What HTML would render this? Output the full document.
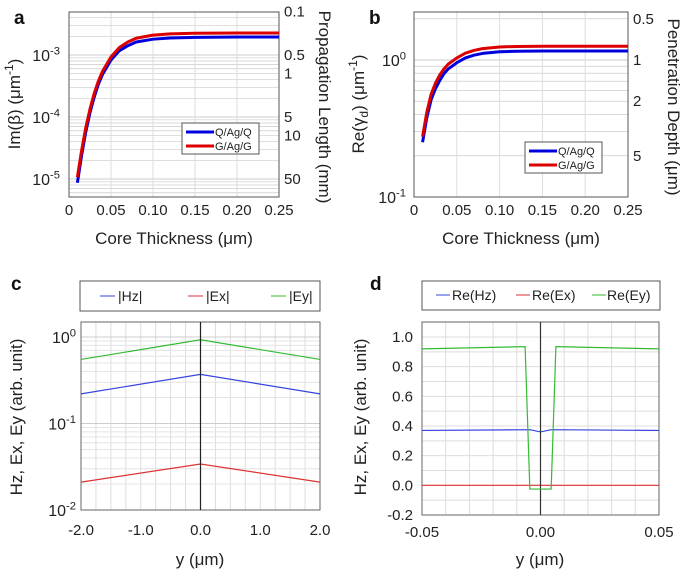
<!DOCTYPE html>
<html><head><meta charset="utf-8">
<style>
html,body{margin:0;padding:0;background:#fff;}
svg{display:block;font-family:"Liberation Sans",sans-serif;}
</style></head>
<body>
<svg id="fig" width="685" height="571" viewBox="0 0 685 571" xmlns="http://www.w3.org/2000/svg"></svg>
<script>
// Panel a data
const aX = [0.01,0.015,0.02,0.025,0.03,0.035,0.04,0.05,0.06,0.07,0.08,0.1,0.12,0.15,0.2,0.25];
const aBlueLog = [-5.06,-4.62,-4.24,-3.93,-3.68,-3.47,-3.31,-3.08,-2.93,-2.85,-2.79,-2.745,-2.725,-2.715,-2.71,-2.71];
const aRedLog = [-4.97,-4.54,-4.17,-3.87,-3.62,-3.42,-3.26,-3.03,-2.88,-2.79,-2.73,-2.68,-2.66,-2.65,-2.645,-2.645];
const aXTicks = [0,0.05,0.10,0.15,0.20,0.25];
const aXTickLabels = ["0","0.05","0.10","0.15","0.20","0.25"];
const aYTicks = [-5,-4,-3];
const aRightTicks = [0.1,0.5,1,5,10,50];
// Panel b data
const bX = [0.01,0.015,0.02,0.025,0.03,0.035,0.04,0.05,0.06,0.07,0.08,0.1,0.12,0.15,0.2,0.25];
const bBlueLog = [-0.60,-0.42,-0.29,-0.21,-0.15,-0.10,-0.065,-0.02,0.015,0.035,0.048,0.06,0.064,0.066,0.066,0.066];
const bRedLog = [-0.56,-0.38,-0.25,-0.17,-0.11,-0.065,-0.03,0.015,0.05,0.07,0.083,0.095,0.099,0.10,0.10,0.10];
const bYTicks = [-1,0];
const bRightTicks = [0.5,1,2,5];
// Panel c data
const cX = [-2,0,2];
const cEy = [0.55,0.93,0.55];
const cHz = [0.22,0.37,0.22];
const cEx = [0.021,0.034,0.021];
const cXTicks = [-2,-1,0,1,2];
const cXTickLabels = ["-2.0","-1.0","0.0","1.0","2.0"];
const cYTicks = [-2,-1,0];
// Panel d data
const dX = [-0.05,-0.0065,-0.0045,0.0045,0.0065,0.05];
const dEy = [0.92,0.935,-0.025,-0.025,0.935,0.92];
const dHzX = [-0.05,-0.0045,0,0.0045,0.05];
const dHz = [0.37,0.375,0.36,0.375,0.37];
const dExX = [-0.05,0.05];
const dEx = [0.0,0.0];
const dXTicks = [-0.05,0,0.05];
const dXTickLabels = ["-0.05","0.00","0.05"];
const dYTicks = [-0.2,0,0.2,0.4,0.6,0.8,1.0];
const dYTickLabels = ["-0.2","0.0","0.2","0.4","0.6","0.8","1.0"];

const NS="http://www.w3.org/2000/svg";
const svg=document.getElementById('fig');
function mk(tag,attrs,parent,text){const e=document.createElementNS(NS,tag);for(const k in attrs)e.setAttribute(k,attrs[k]);if(text!==undefined)e.textContent=text;(parent||svg).appendChild(e);return e;}
function lin(d0,d1,p0,p1){return v=>p0+(v-d0)/(d1-d0)*(p1-p0);}
function path(xs,ys,fx,fy){return xs.map((x,i)=>(i?'L':'M')+fx(x).toFixed(2)+','+fy(ys[i]).toFixed(2)).join('');}
function supLabel(g,x,y,base,exp,size,anchor){const t=mk('text',{x:x,y:y,'font-size':size,'text-anchor':anchor||'end',fill:'#222'},g);mk('tspan',{},t,base);mk('tspan',{dy:-size*0.4,'font-size':size*0.7},t,exp);return t;}

// ===== Panel a =====
(function(){
 const g=mk('g',{});
 const L=69,R=279,T=12,B=197;
 const fx=lin(0,0.25,L,R); const fy=lin(-3,-4,55,117);
 for(let d=-6;d<=-2;d++)for(let m=1;m<10;m++){const v=d+Math.log10(m);const y=fy(v);if(y>T&&y<B)mk('line',{x1:L,x2:R,y1:y,y2:y,stroke:'#ccc','stroke-width':m==1?1:0.7},g);}
 aXTicks.forEach(t=>mk('line',{x1:fx(t),x2:fx(t),y1:T,y2:B,stroke:'#ddd'},g));
 mk('rect',{x:L,y:T,width:R-L,height:B-T,fill:'none',stroke:'#555'},g);
 aXTicks.forEach((t,i)=>{const x=mk('text',{x:fx(t),y:215,'font-size':15,'text-anchor':'middle',fill:'#222'},g,aXTickLabels[i]);});
 aYTicks.forEach(t=>{const s=supLabel(g,60,fy(t)+6,'10',String(t),16);});
 aRightTicks.forEach(t=>{const y=fy(Math.log10(1/(t*2000)));const tx=mk('text',{x:284,y:y+5,'font-size':15,fill:'#222'},g,String(t));});
 const pb=mk('path',{d:path(aX,aBlueLog,fx,fy),fill:'none',stroke:'#0000dd','stroke-width':3,'stroke-linejoin':'round'},g);
 const pr=mk('path',{d:path(aX,aRedLog,fx,fy),fill:'none',stroke:'#dd0000','stroke-width':3,'stroke-linejoin':'round'},g);
 const lg=mk('g',{},g);
 mk('rect',{x:182,y:123,width:77,height:31,fill:'#fff',stroke:'#555'},lg);
 mk('line',{x1:186,x2:214,y1:132,y2:132,stroke:'#0000dd','stroke-width':3},lg);
 mk('text',{x:215,y:136,'font-size':11,fill:'#222'},lg,'Q/Ag/Q');
 mk('line',{x1:186,x2:214,y1:146,y2:146,stroke:'#dd0000','stroke-width':3},lg);
 mk('text',{x:215,y:150,'font-size':11,fill:'#222'},lg,'G/Ag/G');
 const pl=mk('text',{x:14,y:24,'font-size':19,'font-weight':'bold',fill:'#111'},g,'a');
 const xt=mk('text',{x:174,y:244,'font-size':17,'text-anchor':'middle',fill:'#222'},g,'Core Thickness (μm)');
 const yt=mk('text',{transform:'translate(20,104) rotate(-90)','font-size':17,'text-anchor':'middle',fill:'#222'},g);
 mk('tspan',{},yt,'Im(β) (μm');mk('tspan',{dy:-7,'font-size':12},yt,'-1');mk('tspan',{dy:7},yt,')');
 const rt=mk('text',{transform:'translate(319,107) rotate(90)','font-size':17,'text-anchor':'middle',fill:'#222'},g,'Propagation Length (mm)');
})();

// ===== Panel b =====
(function(){
 const g=mk('g',{});
 const L=414,R=628,T=12,B=197;
 const fx=lin(0,0.25,L,R); const fy=lin(0,-1,60,197);
 for(let d=-1;d<=0;d++)for(let m=1;m<10;m++){const v=d+Math.log10(m);const y=fy(v);if(y>T&&y<B)mk('line',{x1:L,x2:R,y1:y,y2:y,stroke:'#ccc','stroke-width':m==1?1:0.7},g);}
 aXTicks.forEach(t=>mk('line',{x1:fx(t),x2:fx(t),y1:T,y2:B,stroke:'#ddd'},g));
 mk('rect',{x:L,y:T,width:R-L,height:B-T,fill:'none',stroke:'#555'},g);
 aXTicks.forEach((t,i)=>{const x=mk('text',{x:fx(t),y:215,'font-size':15,'text-anchor':'middle',fill:'#222'},g,aXTickLabels[i]);});
 bYTicks.forEach(t=>{const s=supLabel(g,406,fy(t)+6,'10',String(t),16);});
 bRightTicks.forEach(t=>{const y=fy(Math.log10(1/t));const tx=mk('text',{x:633,y:y+5,'font-size':15,fill:'#222'},g,String(t));});
 const pb=mk('path',{d:path(bX,bBlueLog,fx,fy),fill:'none',stroke:'#0000dd','stroke-width':3,'stroke-linejoin':'round'},g);
 const pr=mk('path',{d:path(bX,bRedLog,fx,fy),fill:'none',stroke:'#dd0000','stroke-width':3,'stroke-linejoin':'round'},g);
 const lg=mk('g',{},g);
 mk('rect',{x:525,y:142,width:77,height:31,fill:'#fff',stroke:'#555'},lg);
 mk('line',{x1:529,x2:557,y1:151,y2:151,stroke:'#0000dd','stroke-width':3},lg);
 mk('text',{x:558,y:155,'font-size':11,fill:'#222'},lg,'Q/Ag/Q');
 mk('line',{x1:529,x2:557,y1:165,y2:165,stroke:'#dd0000','stroke-width':3},lg);
 mk('text',{x:558,y:169,'font-size':11,fill:'#222'},lg,'G/Ag/G');
 const pl=mk('text',{x:369,y:24,'font-size':19,'font-weight':'bold',fill:'#111'},g,'b');
 const xt=mk('text',{x:521,y:244,'font-size':17,'text-anchor':'middle',fill:'#222'},g,'Core Thickness (μm)');
 const yt=mk('text',{transform:'translate(364,104) rotate(-90)','font-size':17,'text-anchor':'middle',fill:'#222'},g);
 mk('tspan',{},yt,'Re(γ');mk('tspan',{dy:4,'font-size':12},yt,'d');mk('tspan',{dy:-4},yt,') (μm');mk('tspan',{dy:-7,'font-size':12},yt,'-1');mk('tspan',{dy:7},yt,')');
 const rt=mk('text',{transform:'translate(668,107) rotate(90)','font-size':17,'text-anchor':'middle',fill:'#222'},g,'Penetration Depth (μm)');
})();

// ===== Panel c =====
(function(){
 const g=mk('g',{});
 const L=81,R=320,T=322,B=510;
 const fx=lin(-2,2,L,R); const fy=lin(0,-1,337,423.5);
 for(let x=-2;x<=2.001;x+=0.25)mk('line',{x1:fx(x),x2:fx(x),y1:T,y2:B,stroke:'#ddd'},g);
 for(let d=-2;d<=0;d++)for(let m=1;m<10;m++){const v=d+Math.log10(m);const y=fy(v);if(y>T&&y<B)mk('line',{x1:L,x2:R,y1:y,y2:y,stroke:m==1?'#ccc':'#e4e4e4'},g);}
 mk('rect',{x:L,y:T,width:R-L,height:B-T,fill:'none',stroke:'#666'},g);
 cXTicks.forEach((t,i)=>{const x=mk('text',{x:fx(t),y:535,'font-size':15,'text-anchor':'middle',fill:'#222'},g,cXTickLabels[i]);});
 cYTicks.forEach(t=>{const s=supLabel(g,76,fy(t)+6,'10',String(t),16);});
 const lg10=a=>a.map(v=>Math.log10(v));
 const e1=mk('path',{d:path(cX,lg10(cEy),fx,fy),fill:'none',stroke:'#33bb33','stroke-width':1.2},g);
 const e2=mk('path',{d:path(cX,lg10(cHz),fx,fy),fill:'none',stroke:'#3344dd','stroke-width':1.2},g);
 const e3=mk('path',{d:path(cX,lg10(cEx),fx,fy),fill:'none',stroke:'#dd3333','stroke-width':1.2},g);
 mk('line',{x1:fx(0),x2:fx(0),y1:T,y2:B,stroke:'#222','stroke-width':1.2},g);
 const lg=mk('g',{},g);
 mk('rect',{x:80,y:281,width:240,height:30,fill:'#fff',stroke:'#555'},lg);
 mk('line',{x1:100,x2:115,y1:296,y2:296,stroke:'#3344dd'},lg);mk('text',{x:118,y:301,'font-size':14,fill:'#222'},lg,'|Hz|');
 mk('line',{x1:188,x2:203,y1:296,y2:296,stroke:'#dd3333'},lg);mk('text',{x:206,y:301,'font-size':14,fill:'#222'},lg,'|Ex|');
 mk('line',{x1:271,x2:286,y1:296,y2:296,stroke:'#33bb33'},lg);mk('text',{x:289,y:301,'font-size':14,fill:'#222'},lg,'|Ey|');
 const pl=mk('text',{x:11,y:290,'font-size':19,'font-weight':'bold',fill:'#111'},g,'c');
 const xt=mk('text',{x:200,y:565,'font-size':17,'text-anchor':'middle',fill:'#222'},g,'y (μm)');
 const yt=mk('text',{transform:'translate(22,417) rotate(-90)','font-size':17,'text-anchor':'middle',fill:'#222'},g,'Hz, Ex, Ey (arb. unit)');
})();

// ===== Panel d =====
(function(){
 const g=mk('g',{});
 const L=422,R=659,T=322,B=515;
 const fx=lin(-0.05,0.05,L,R); const fy=lin(1.0,-0.2,337,515);
 for(let i=-5;i<=5;i++)mk('line',{x1:fx(i*0.01),x2:fx(i*0.01),y1:T,y2:B,stroke:'#ddd'},g);
 for(let i=-2;i<=11;i++)mk('line',{x1:L,x2:R,y1:fy(i*0.1),y2:fy(i*0.1),stroke:'#ddd'},g);
 mk('rect',{x:L,y:T,width:R-L,height:B-T,fill:'none',stroke:'#666'},g);
 dXTicks.forEach((t,i)=>{const x=mk('text',{x:fx(t),y:537,'font-size':15,'text-anchor':'middle',fill:'#222'},g,dXTickLabels[i]);});
 dYTicks.forEach((t,i)=>{const x=mk('text',{x:413,y:fy(t)+5,'font-size':15,'text-anchor':'end',fill:'#222'},g,dYTickLabels[i]);});
 const e3=mk('path',{d:path(dExX,dEx,fx,fy),fill:'none',stroke:'#dd3333','stroke-width':1.2},g);
 const e2=mk('path',{d:path(dHzX,dHz,fx,fy),fill:'none',stroke:'#3344dd','stroke-width':1.2},g);
 mk('line',{x1:fx(0),x2:fx(0),y1:T,y2:B,stroke:'#333','stroke-width':1.2},g);
 const e1=mk('path',{d:path(dX,dEy,fx,fy),fill:'none',stroke:'#33bb33','stroke-width':1.2},g);
 const lg=mk('g',{},g);
 mk('rect',{x:422,y:281,width:238,height:29,fill:'#fff',stroke:'#555'},lg);
 mk('line',{x1:436,x2:450,y1:295,y2:295,stroke:'#3344dd'},lg);mk('text',{x:452,y:300,'font-size':14,fill:'#222'},lg,'Re(Hz)');
 mk('line',{x1:516,x2:530,y1:295,y2:295,stroke:'#dd3333'},lg);mk('text',{x:532,y:300,'font-size':14,fill:'#222'},lg,'Re(Ex)');
 mk('line',{x1:592,x2:606,y1:295,y2:295,stroke:'#33bb33'},lg);mk('text',{x:607,y:300,'font-size':14,fill:'#222'},lg,'Re(Ey)');
 const pl=mk('text',{x:370,y:290,'font-size':19,'font-weight':'bold',fill:'#111'},g,'d');
 const xt=mk('text',{x:540,y:565,'font-size':17,'text-anchor':'middle',fill:'#222'},g,'y (μm)');
 const yt=mk('text',{transform:'translate(366,417) rotate(-90)','font-size':17,'text-anchor':'middle',fill:'#222'},g,'Hz, Ex, Ey (arb. unit)');
})();
</script>
</body></html>
